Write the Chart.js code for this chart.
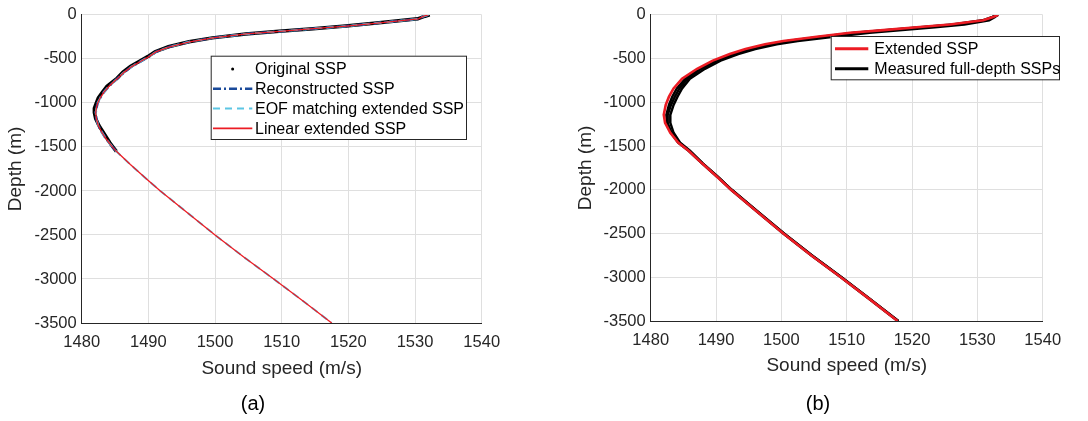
<!DOCTYPE html>
<html>
<head>
<meta charset="utf-8">
<script src="https://cdn.jsdelivr.net/npm/chart.js@4.4.1/dist/chart.umd.min.js"></script>
<style>
  body { margin: 0; background: #fff; }
  #wrap { position: relative; width: 1088px; height: 421px; }
  canvas { position: absolute; top: 0; }
  #chartA { left: 0; }
  #chartB { left: 544px; }
</style>
</head>
<body>
<div id="wrap">
  <canvas id="chartA" width="544" height="421"></canvas>
  <canvas id="chartB" width="544" height="421"></canvas>
</div>
<script>
// ---- panel (a): depths in m (positive down), speeds in m/s
const depthA = [0, 15, 45, 90, 127, 157, 187, 216, 261, 306, 362, 418, 474, 530, 587, 650, 720, 810, 880, 941, 1000, 1060, 1110, 1180, 1259, 1330, 1390, 1450, 1500, 1550];
const origSSP = [1532.2, 1531.5, 1530.4, 1524.6, 1519.6, 1514.7, 1509.6, 1504.6, 1499.6, 1496.1, 1493.0, 1491.0, 1489.9, 1488.6, 1487.3, 1486.2, 1485.3, 1483.8, 1483.1, 1482.5, 1482.2, 1481.9, 1481.9, 1482.1, 1482.6, 1483.2, 1483.7, 1484.2, 1484.7, 1485.2];
const reconSSP = [1532.0, 1531.3, 1530.5, 1524.7, 1519.7, 1514.7, 1509.7, 1504.7, 1499.7, 1496.2, 1493.2, 1491.2, 1490.1, 1488.8, 1487.5, 1486.4, 1485.4, 1484.1, 1483.3, 1482.8, 1482.4, 1482.2, 1482.1, 1482.2, 1482.5, 1483.0, 1483.5, 1484.1, 1484.6, 1485.2];
const depthExt = [1700, 1875, 2000, 2250, 2500, 2750, 3000, 3250, 3500];
const eofExt = [1487.3, 1489.9, 1491.8, 1495.9, 1500.0, 1504.3, 1508.8, 1513.2, 1517.5];
const linearExt = [1487.3, 1489.9, 1491.8, 1495.9, 1500.0, 1504.3, 1508.8, 1513.2, 1517.5];

// ---- panel (b)
const depthB = [0, 24, 62, 110, 141, 174, 204, 249, 298, 335, 391, 448, 523, 616, 729, 841, 935, 1029, 1142, 1235, 1348, 1460, 1553, 1700, 1853, 2000, 2250, 2500, 2750, 3000, 3250, 3500];
const extendedSSP = [1533.2, 1532.4, 1530.9, 1525.8, 1520.7, 1515.6, 1510.5, 1505.4, 1500.3, 1497.5, 1494.5, 1492.1, 1489.5, 1487.1, 1484.8, 1483.5, 1482.8, 1482.3, 1482.0, 1482.2, 1483.0, 1484.2, 1485.8, 1487.9, 1490.2, 1492.3, 1496.3, 1500.3, 1504.6, 1509.1, 1513.5, 1517.8];
const measured1 = [1533.2, 1532.4, 1531.3, 1526.8, 1521.8, 1516.7, 1511.6, 1506.4, 1501.2, 1498.3, 1495.1, 1492.6, 1489.9, 1487.5, 1485.3, 1484.0, 1483.3, 1482.8, 1482.4, 1482.5, 1483.2, 1484.4, 1485.9, 1488.0, 1490.3, 1492.4, 1496.4, 1500.4, 1504.7, 1509.2, 1513.6, 1517.9];
const measured2 = [1533.1, 1532.7, 1531.8, 1528.0, 1523.5, 1518.5, 1513.5, 1508.0, 1502.5, 1499.3, 1496.0, 1493.4, 1490.7, 1488.3, 1486.0, 1484.8, 1484.1, 1483.5, 1483.0, 1483.0, 1483.5, 1484.5, 1486.0, 1488.0, 1490.3, 1492.4, 1496.4, 1500.4, 1504.7, 1509.2, 1513.6, 1517.9];
const measured3 = [1533.0, 1532.3, 1530.8, 1526.2, 1521.3, 1516.3, 1511.2, 1506.1, 1501.0, 1498.2, 1495.2, 1492.7, 1490.1, 1487.7, 1485.6, 1484.4, 1483.7, 1483.1, 1482.6, 1482.6, 1483.1, 1484.2, 1485.8, 1487.9, 1490.2, 1492.3, 1496.3, 1500.3, 1504.6, 1509.1, 1513.5, 1517.8];

const speedTicks = [1480, 1490, 1500, 1510, 1520, 1530, 1540];
const depthTicks = [0, -500, -1000, -1500, -2000, -2500, -3000, -3500];

Chart.defaults.font.family = "'Liberation Sans', Arial, sans-serif";

const pts = (speeds, depths) => speeds.map((c, i) => ({ x: c, y: -depths[i] }));

// legend drawn in a box at a fixed spot, like the matlab one
const boxLegend = {
  id: 'boxLegend',
  afterDraw(chart, args, o) {
    const ctx = chart.ctx;
    ctx.save();
    ctx.fillStyle = '#fff';
    ctx.fillRect(o.x, o.y, o.w, o.h);
    ctx.strokeStyle = '#262626';
    ctx.lineWidth = 1;
    ctx.strokeRect(o.x + 0.5, o.y + 0.5, o.w, o.h);
    ctx.font = "16px 'Liberation Sans', Arial, sans-serif";
    ctx.textBaseline = 'middle';
    chart.data.datasets.filter(d => !d.noLegend).forEach((d, i) => {
      const yy = o.y + o.row0 + i * o.rowH;
      if (d.legendDot) {
        ctx.fillStyle = d.borderColor;
        ctx.beginPath();
        ctx.arc(o.x + (o.l0 + o.l1) / 2, yy, 1.5, 0, Math.PI * 2);
        ctx.fill();
      } else {
        ctx.strokeStyle = d.borderColor;
        ctx.lineWidth = d.legendWidth || d.borderWidth;
        ctx.setLineDash(d.borderDash || []);
        ctx.beginPath();
        ctx.moveTo(o.x + o.l0, yy);
        ctx.lineTo(o.x + o.l1, yy);
        ctx.stroke();
        ctx.setLineDash([]);
      }
      ctx.fillStyle = '#000';
      ctx.fillText(d.label, o.x + o.textX, yy + 1);
    });
    ctx.restore();
  }
};

const caption = {
  id: 'caption',
  afterDraw(chart, args, o) {
    const ctx = chart.ctx;
    ctx.save();
    ctx.font = "20px 'Liberation Sans', Arial, sans-serif";
    ctx.fillStyle = '#000';
    ctx.textAlign = 'center';
    ctx.textBaseline = 'middle';
    ctx.fillText(o.text, o.x, o.y);
    ctx.restore();
  }
};

function axes(yWidth, xHeight, xTitlePad) {
  return {
    x: {
      type: 'linear', min: 1480, max: 1540,
      afterBuildTicks: s => { s.ticks = speedTicks.map(v => ({ value: v })); },
      ticks: { color: '#262626', font: { size: 16.5 }, padding: 10, callback: v => String(v) },
      grid: { color: '#dfdfdf', drawTicks: false },
      border: { color: '#262626', width: 1 },
      title: { display: true, text: 'Sound speed (m/s)', color: '#262626', font: { size: 19 }, padding: { top: 0, bottom: xTitlePad } },
      afterFit: s => { s.height = xHeight; }
    },
    y: {
      type: 'linear', min: -3500, max: 0,
      afterBuildTicks: s => { s.ticks = depthTicks.map(v => ({ value: v })); },
      ticks: { color: '#262626', font: { size: 16.5 }, padding: 5, callback: v => String(v) },
      grid: { color: '#dfdfdf', drawTicks: false },
      border: { color: '#262626', width: 1 },
      title: { display: true, text: 'Depth (m)', color: '#262626', font: { size: 19 }, padding: { top: 4, bottom: 0 } },
      afterFit: s => { s.width = yWidth; }
    }
  };
}

const red = 'rgb(236, 28, 36)';

new Chart(document.getElementById('chartA'), {
  type: 'scatter',
  data: {
    datasets: [
      { label: 'Original SSP', data: pts(origSSP, depthA), showLine: true, borderColor: '#000', borderWidth: 3.5, pointRadius: 0, legendDot: true, order: 3 },
      { label: 'Reconstructed SSP', data: pts(reconSSP, depthA), showLine: true, borderColor: '#1a4a9a', borderWidth: 2.5, borderDash: [8, 3, 2, 3], pointRadius: 0, order: 2 },
      { label: 'EOF matching extended SSP', data: pts(reconSSP.concat(eofExt), depthA.concat(depthExt)), showLine: true, borderColor: '#5cc6e4', borderWidth: 2, borderDash: [7, 5], pointRadius: 0, order: 1 },
      { label: 'Linear extended SSP', data: pts(reconSSP.concat(linearExt), depthA.concat(depthExt)), showLine: true, borderColor: red, borderWidth: 1.3, legendWidth: 1.6, pointRadius: 0, order: 0 }
    ]
  },
  options: {
    responsive: false, animation: false, devicePixelRatio: 1,
    layout: { padding: { left: 0, right: 62.3, top: 11, bottom: 0 } },
    scales: axes(81.7, 98, 40.6),
    plugins: {
      legend: { display: false }, tooltip: { enabled: false },
      boxLegend: { x: 210.7, y: 55.7, w: 255.3, h: 83.3, row0: 13.3, rowH: 19.8, l0: 2.3, l1: 41.6, textX: 44.3 },
      caption: { text: '(a)', x: 253, y: 404 }
    }
  },
  plugins: [boxLegend, caption]
});

new Chart(document.getElementById('chartB'), {
  type: 'scatter',
  data: {
    datasets: [
      { label: 'Extended SSP', data: pts(extendedSSP, depthB), showLine: true, borderColor: red, borderWidth: 2.6, legendWidth: 3, pointRadius: 0, order: 0 },
      { label: 'Measured full-depth SSPs', data: pts(measured1, depthB), showLine: true, borderColor: '#000', borderWidth: 2.5, legendWidth: 3, pointRadius: 0, order: 1 },
      { label: 'measured 2', data: pts(measured2, depthB), showLine: true, borderColor: '#000', borderWidth: 2.5, pointRadius: 0, noLegend: true, order: 2 },
      { label: 'measured 3', data: pts(measured3, depthB), showLine: true, borderColor: '#000', borderWidth: 2.5, pointRadius: 0, noLegend: true, order: 3 }
    ]
  },
  options: {
    responsive: false, animation: false, devicePixelRatio: 1,
    layout: { padding: { left: 26, right: 45.3, top: 10.2, bottom: 0 } },
    scales: axes(80.7, 100, 43.6),
    plugins: {
      legend: { display: false }, tooltip: { enabled: false },
      boxLegend: { x: 286.7, y: 36, w: 228.3, h: 43.3, row0: 12.7, rowH: 20, l0: 4.3, l1: 37.6, textX: 43.6 },
      caption: { text: '(b)', x: 274, y: 404 }
    }
  },
  plugins: [boxLegend, caption]
});
</script>
</body>
</html>
